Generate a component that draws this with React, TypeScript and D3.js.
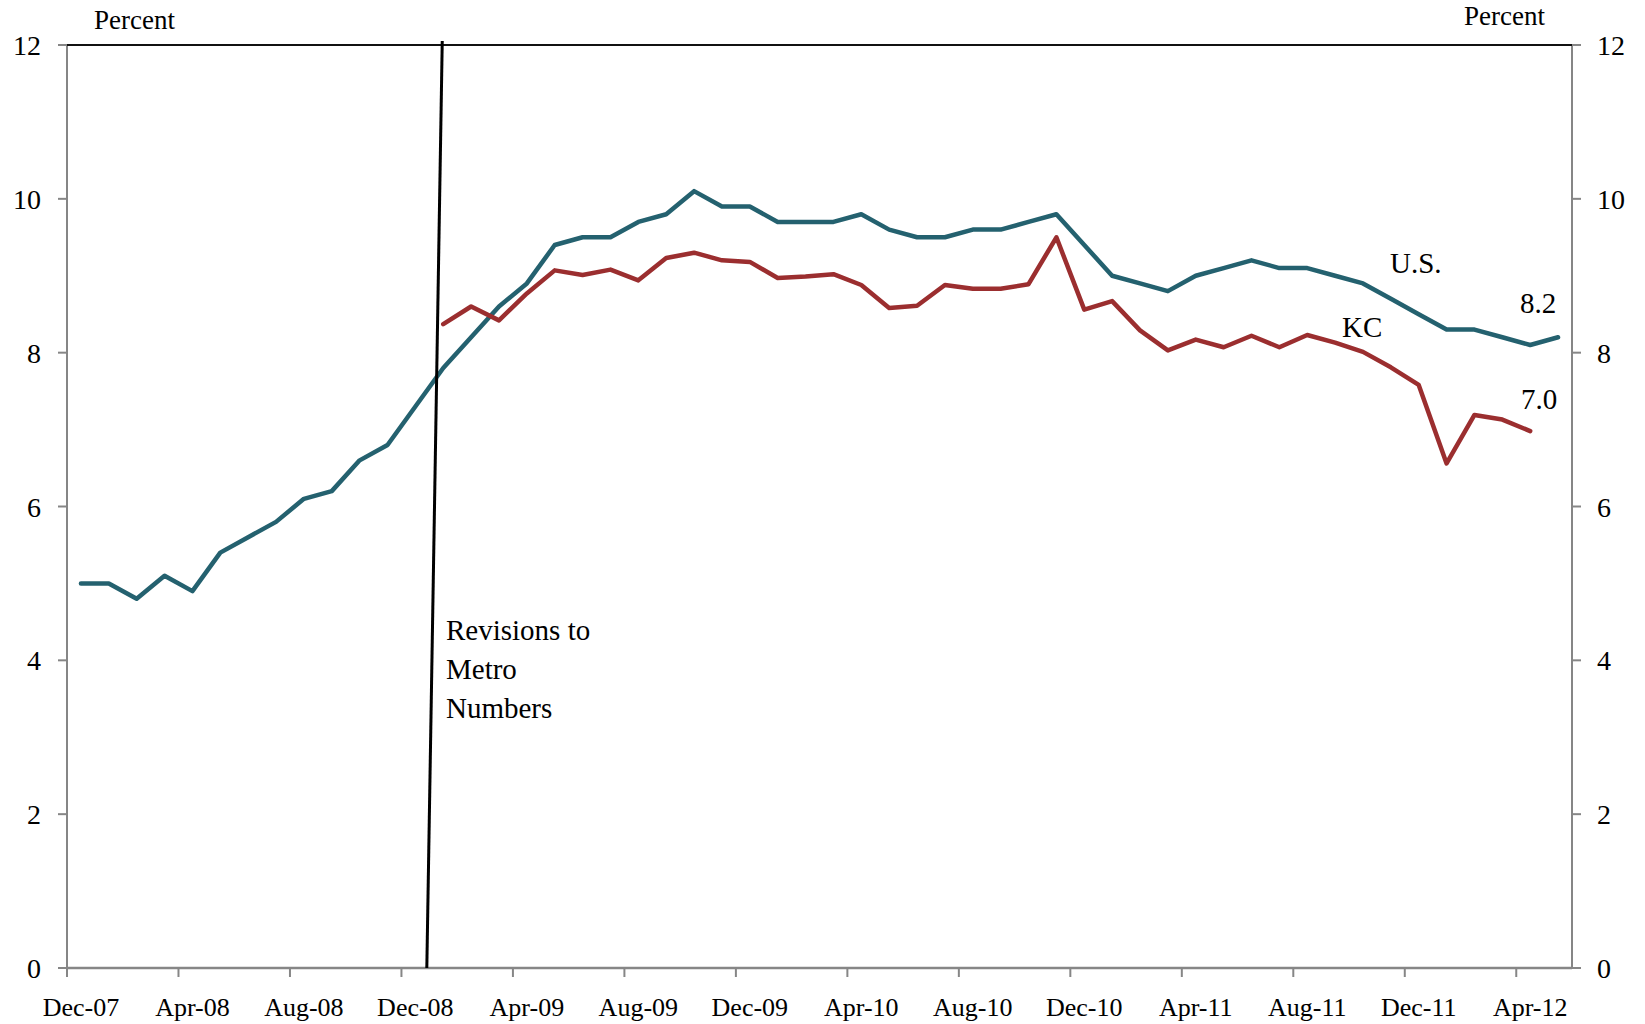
import React from "react";
import * as d3 from "d3";

const months: string[] = [
  "Dec-07", "Jan-08", "Feb-08", "Mar-08", "Apr-08", "May-08", "Jun-08", "Jul-08", "Aug-08", "Sep-08", "Oct-08", "Nov-08",
  "Dec-08", "Jan-09", "Feb-09", "Mar-09", "Apr-09", "May-09", "Jun-09", "Jul-09", "Aug-09", "Sep-09", "Oct-09", "Nov-09",
  "Dec-09", "Jan-10", "Feb-10", "Mar-10", "Apr-10", "May-10", "Jun-10", "Jul-10", "Aug-10", "Sep-10", "Oct-10", "Nov-10",
  "Dec-10", "Jan-11", "Feb-11", "Mar-11", "Apr-11", "May-11", "Jun-11", "Jul-11", "Aug-11", "Sep-11", "Oct-11", "Nov-11",
  "Dec-11", "Jan-12", "Feb-12", "Mar-12", "Apr-12", "May-12",
];

const usRate: number[] = [
  5.0, 5.0, 4.8, 5.1, 4.9, 5.4, 5.6, 5.8, 6.1, 6.2, 6.6, 6.8,
  7.3, 7.8, 8.2, 8.6, 8.9, 9.4, 9.5, 9.5, 9.7, 9.8, 10.1, 9.9,
  9.9, 9.7, 9.7, 9.7, 9.8, 9.6, 9.5, 9.5, 9.6, 9.6, 9.7, 9.8,
  9.4, 9.0, 8.9, 8.8, 9.0, 9.1, 9.2, 9.1, 9.1, 9.0, 8.9, 8.7,
  8.5, 8.3, 8.3, 8.2, 8.1, 8.2,
];

const kcRate: (number | null)[] = [
  null, null, null, null, null, null, null, null, null, null, null, null,
  null, 8.37, 8.6, 8.42, 8.77, 9.07, 9.01, 9.08, 8.94, 9.23, 9.3, 9.2,
  9.18, 8.97, 8.99, 9.02, 8.88, 8.58, 8.61, 8.88, 8.83, 8.83, 8.89, 9.5,
  8.56, 8.67, 8.29, 8.03, 8.17, 8.07, 8.22, 8.07, 8.23, 8.13, 8.01, 7.81,
  7.58, 6.56, 7.19, 7.13, 6.98, null,
];

const yTicks: number[] = [0, 2, 4, 6, 8, 10, 12];
const xTickLabels: string[] = [
  "Dec-07", "Apr-08", "Aug-08", "Dec-08", "Apr-09", "Aug-09", "Dec-09",
  "Apr-10", "Aug-10", "Dec-10", "Apr-11", "Aug-11", "Dec-11", "Apr-12",
];
const revisionMonth = "Jan-09";
const revisionText: string[] = ["Revisions to", "Metro", "Numbers"];

const US_COLOR = "#24616F";
const KC_COLOR = "#9B2E2F";
const AXIS_COLOR = "#868686";
const FONT = "'Liberation Serif', 'Times New Roman', serif";

export default function App() {
  const W = 1645;
  const H = 1024;
  const left = 67;
  const right = 1572;
  const top = 45;
  const bottom = 968;

  const x = d3.scaleBand<string>().domain(months).range([left, right]).padding(0);
  const bw = x.bandwidth();
  const cx = (m: string) => (x(m) as number) + bw / 2;
  const y = d3.scaleLinear().domain([0, 12]).range([bottom, top]);

  const line = d3
    .line<number | null>()
    .defined((d) => d !== null)
    .x((_, i) => cx(months[i]))
    .y((d) => y(d as number));

  const usPath = line(usRate) || "";
  const kcPath = line(kcRate) || "";

  const lastUsIdx = usRate.length - 1;
  let lastKcIdx = kcRate.length - 1;
  while (kcRate[lastKcIdx] === null) lastKcIdx--;

  const revTopX = cx(revisionMonth) - 1;
  const revBotX = (x(revisionMonth) as number) - 2.5;

  const xTickFont = 26;
  const yTickFont = 28;

  return (
    <svg
      width={W}
      height={H}
      style={{ position: "absolute", left: 0, top: 0, background: "#fff", display: "block" }}
      fontFamily={FONT}
    >
      <rect x={0} y={0} width={W} height={H} fill="#fff" />
      {/* left & right axes */}
      <line x1={left} x2={left} y1={top} y2={bottom} stroke={AXIS_COLOR} strokeWidth={2} />
      <line x1={right} x2={right} y1={top} y2={bottom} stroke={AXIS_COLOR} strokeWidth={2} />
      {yTicks.map((t) => (
        <g key={"yt" + t}>
          <line x1={left - 9} x2={left} y1={y(t)} y2={y(t)} stroke={AXIS_COLOR} strokeWidth={2} />
          <line x1={right} x2={right + 9} y1={y(t)} y2={y(t)} stroke={AXIS_COLOR} strokeWidth={2} />
          <text x={41} y={y(t) + 10} fontSize={yTickFont} textAnchor="end" fill="#000">
            {t}
          </text>
          <text x={1597} y={y(t) + 10} fontSize={yTickFont} textAnchor="start" fill="#000">
            {t}
          </text>
        </g>
      ))}
      {/* bottom axis */}
      <line x1={left} x2={right} y1={bottom} y2={bottom} stroke={AXIS_COLOR} strokeWidth={2.5} />
      {months.map((m, i) =>
        i % 4 === 0 ? (
          <line key={"xt" + m} x1={x(m)} x2={x(m)} y1={bottom} y2={bottom + 9} stroke={AXIS_COLOR} strokeWidth={2} />
        ) : null
      )}
      {xTickLabels.map((m) => (
        <text key={"xl" + m} x={cx(m)} y={1016} fontSize={xTickFont} textAnchor="middle" fill="#000">
          {m}
        </text>
      ))}
      {/* top border */}
      <line x1={left} x2={right} y1={top} y2={top} stroke="#111" strokeWidth={2} />

      {/* series */}
      <path d={usPath} fill="none" stroke={US_COLOR} strokeWidth={4.5} strokeLinejoin="round" strokeLinecap="round" />
      <path d={kcPath} fill="none" stroke={KC_COLOR} strokeWidth={4.5} strokeLinejoin="round" strokeLinecap="round" />

      {/* revision line */}
      <line x1={revTopX} y1={top - 4} x2={revBotX} y2={bottom} stroke="#000" strokeWidth={3} />
      {revisionText.map((s, i) => (
        <text key={"rv" + i} x={446} y={640 + i * 39} fontSize={29} fill="#000">
          {s}
        </text>
      ))}

      {/* labels */}
      <text x={94} y={29} fontSize={27} fill="#000">Percent</text>
      <text x={1464} y={25} fontSize={27} fill="#000">Percent</text>
      <text x={1390} y={273} fontSize={29} fill="#000">U.S.</text>
      <text x={1342} y={337} fontSize={29} fill="#000">KC</text>
      <text x={cx(months[lastUsIdx]) - 20} y={313} fontSize={29} textAnchor="middle" fill="#000">
        {usRate[lastUsIdx].toFixed(1)}
      </text>
      <text x={cx(months[lastKcIdx]) + 9} y={409} fontSize={29} textAnchor="middle" fill="#000">
        {(kcRate[lastKcIdx] as number).toFixed(1)}
      </text>
    </svg>
  );
}
